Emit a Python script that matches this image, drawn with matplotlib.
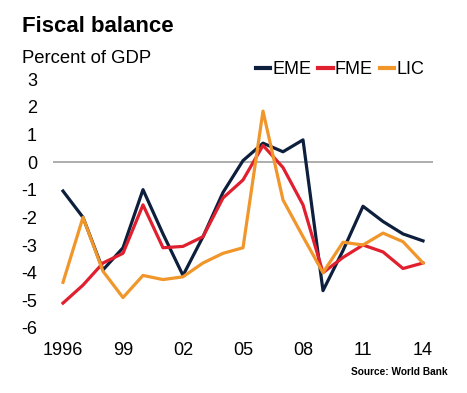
import matplotlib
matplotlib.use("Agg")
import matplotlib.pyplot as plt

# Fiscal balance, percent of GDP
years = list(range(1996, 2015))
eme = [-1.05, -2.0, -3.9, -3.1, -1.0, -2.6, -4.1, -2.7, -1.1, 0.05,
       0.68, 0.37, 0.8, -4.65, -3.2, -1.6, -2.15, -2.6, -2.85]
fme = [-5.1, -4.45, -3.65, -3.3, -1.55, -3.1, -3.05, -2.7, -1.3, -0.65,
       0.6, -0.2, -1.55, -4.0, -3.45, -3.0, -3.25, -3.85, -3.65]
lic = [-4.35, -2.0, -3.95, -4.9, -4.1, -4.25, -4.15, -3.65, -3.3, -3.1,
       1.84, -1.37, -2.7, -4.0, -2.9, -3.0, -2.57, -2.88, -3.65]

yticks = [3, 2, 1, 0, -1, -2, -3, -4, -5, -6]
xticks = [1996, 1999, 2002, 2005, 2008, 2011, 2014]
xlabels = ["1996", "99", "02", "05", "08", "11", "14"]

plt.rcParams['font.family'] = ['Liberation Sans', 'DejaVu Sans']

fig = plt.figure(figsize=(4.67, 3.93), dpi=100)
ax = fig.add_axes([53/467, 65/393, 380/467, 249/393])

ax.axhline(0, color="#a0a0a0", lw=1.2, zorder=1)
ax.plot(years, eme, color="#0d1f3c", lw=2.3, label="EME", clip_on=False)
ax.plot(years, fme, color="#e0202f", lw=2.3, label="FME", clip_on=False)
ax.plot(years, lic, color="#f0962a", lw=2.3, label="LIC", clip_on=False)

ax.set_xlim(1995.5, 2014.5)
ax.set_ylim(-6, 3)
ax.set_yticks(yticks)
ax.set_yticklabels([str(v) for v in yticks])
ax.set_xticks(xticks)
ax.set_xticklabels(xlabels)
ax.tick_params(length=0, labelsize=13)
ax.tick_params(axis="y", pad=11.5)
ax.tick_params(axis="x", pad=10)
for s in ax.spines.values():
    s.set_visible(False)

leg = ax.legend(loc="lower left", bbox_to_anchor=(201/380, 0.995), ncol=3, frameon=False,
                fontsize=13, handlelength=0.8, handletextpad=0.1, columnspacing=0.4,
                borderaxespad=0, borderpad=0.1)
for h in leg.get_lines():
    h.set_linewidth(3)

fig.text(22/467, 1 - 32/393, "Fiscal balance", fontsize=16, fontweight="bold", va="baseline")
fig.text(22/467, 1 - 63/393, "Percent of GDP", fontsize=13.3, va="baseline")
fig.text(448/467, 1 - 375/393, "Source: World Bank", fontsize=7.3, fontweight="bold",
         ha="right", va="baseline")

fig.savefig("out.png", dpi=100)
